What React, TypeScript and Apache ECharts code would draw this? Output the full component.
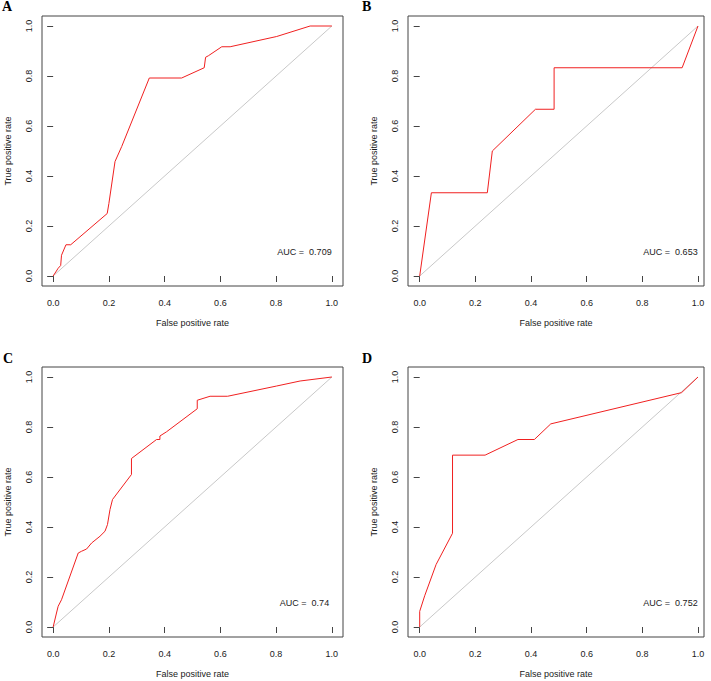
import React, { useEffect, useRef } from "react";
import * as echarts from "echarts";

// Panel labels and AUC values
const panelLetters = ["A", "B", "C", "D"];
const aucTexts = ["AUC =  0.709", "AUC =  0.653", "AUC =  0.74", "AUC =  0.752"];

// Axis ticks
const tickValues = [0, 0.2, 0.4, 0.6, 0.8, 1.0];
const xTitle = "False positive rate";
const yTitle = "True positive rate";

// ROC curve A
const fprA = [0, 0.018, 0.027, 0.030, 0.046, 0.063, 0.194, 0.200, 0.222, 0.246, 0.345, 0.461, 0.542, 0.547, 0.557, 0.605, 0.635, 0.802, 0.922, 1];
const tprA = [0, 0.031, 0.042, 0.083, 0.125, 0.125, 0.25, 0.29, 0.458, 0.518, 0.792, 0.792, 0.833, 0.875, 0.881, 0.917, 0.917, 0.958, 1, 1];

// ROC curve B
const fprB = [0, 0.042, 0.243, 0.261, 0.416, 0.483, 0.483, 0.943, 1];
const tprB = [0, 0.333, 0.333, 0.5, 0.667, 0.667, 0.833, 0.833, 1];

// ROC curve C
const fprC = [0, 0.012, 0.018, 0.030, 0.090, 0.102, 0.120, 0.138, 0.168, 0.186, 0.195, 0.204, 0.213, 0.281, 0.281, 0.371, 0.383, 0.383, 0.407, 0.517, 0.517, 0.563, 0.626, 0.802, 0.886, 1];
const tprC = [0, 0.056, 0.083, 0.109, 0.296, 0.303, 0.312, 0.336, 0.363, 0.383, 0.410, 0.470, 0.510, 0.610, 0.674, 0.750, 0.750, 0.764, 0.781, 0.873, 0.907, 0.923, 0.923, 0.964, 0.984, 1];

// ROC curve D
const fprD = [0, 0, 0.018, 0.059, 0.118, 0.118, 0.235, 0.353, 0.412, 0.471, 0.941, 1];
const tprD = [0, 0.0625, 0.125, 0.25, 0.375, 0.6875, 0.6875, 0.75, 0.75, 0.8125, 0.9375, 1];

// Chance diagonal
const diagX = [0, 1];
const diagY = [0, 1];

const FONT = '"Liberation Sans", Arial, sans-serif';
const TEXT = "#1a1a1a";
const BOX = "#444";

export default function App() {
  const ref = useRef<HTMLDivElement>(null);

  useEffect(() => {
    if (!ref.current) return;
    const chart = echarts.init(ref.current, null, { renderer: "svg" });

    const panels = [
      { fpr: fprA, tpr: tprA, grid: { left: 42, top: 16, width: 301, height: 270 }, xr: [-0.04, 1.04], letter: [2, 13], auc: [304.5, 252] },
      { fpr: fprB, tpr: tprB, grid: { left: 408, top: 16, width: 296, height: 270 }, xr: [-0.042, 1.0216], letter: [362, 13], auc: [670.5, 252] },
      { fpr: fprC, tpr: tprC, grid: { left: 42, top: 367, width: 301, height: 270 }, xr: [-0.04, 1.04], letter: [3, 365], auc: [304.5, 603] },
      { fpr: fprD, tpr: tprD, grid: { left: 408, top: 367, width: 296, height: 270 }, xr: [-0.042, 1.0216], letter: [362, 365], auc: [670.5, 603] },
    ];

    const grids: any[] = [];
    const xAxes: any[] = [];
    const yAxes: any[] = [];
    const series: any[] = [];
    const graphics: any[] = [];

    panels.forEach((p, i) => {
      grids.push({ ...p.grid, show: true, borderColor: BOX, borderWidth: 1, backgroundColor: "transparent", containLabel: false });
      xAxes.push({
        type: "value",
        gridIndex: i,
        min: p.xr[0],
        max: p.xr[1],
        axisLine: { show: false },
        splitLine: { show: false },
        axisTick: { show: true, inside: false, length: 6, customValues: tickValues, lineStyle: { color: BOX, width: 1 } },
        axisLabel: {
          customValues: tickValues,
          formatter: (v: number) => v.toFixed(1),
          fontSize: 9,
          fontFamily: FONT,
          color: TEXT,
          margin: 12,
        },
        name: xTitle,
        nameLocation: "middle",
        nameGap: 32,
        nameTextStyle: { fontSize: 9, fontFamily: FONT, color: TEXT },
      });
      yAxes.push({
        type: "value",
        gridIndex: i,
        min: -0.04,
        max: 1.04,
        axisLine: { show: false },
        splitLine: { show: false },
        axisTick: { show: true, inside: false, length: 6, customValues: tickValues, lineStyle: { color: BOX, width: 1 } },
        axisLabel: {
          customValues: tickValues,
          formatter: (v: number) => v.toFixed(1),
          fontSize: 9,
          fontFamily: FONT,
          color: TEXT,
          rotate: 90,
          margin: 9,
        },
        name: yTitle,
        nameLocation: "middle",
        nameGap: 30,
        nameTextStyle: { fontSize: 9, fontFamily: FONT, color: TEXT },
      });
      series.push({
        type: "line",
        xAxisIndex: i,
        yAxisIndex: i,
        data: diagX.map((x, k) => [x, diagY[k]]),
        showSymbol: false,
        symbol: "none",
        lineStyle: { color: "#c8c8c8", width: 1 },
        silent: true,
      });
      series.push({
        type: "line",
        xAxisIndex: i,
        yAxisIndex: i,
        data: p.fpr.map((x, k) => [x, p.tpr[k]]),
        showSymbol: false,
        symbol: "none",
        lineStyle: { color: "#f02020", width: 1 },
        silent: true,
      });
      graphics.push({
        type: "text",
        x: p.letter[0],
        y: p.letter[1],
        style: {
          text: panelLetters[i],
          font: 'bold 14px "Liberation Serif", "Times New Roman", serif',
          fill: "#000",
          textVerticalAlign: "bottom",
          verticalAlign: "bottom",
        },
      });
      graphics.push({
        type: "text",
        x: p.auc[0],
        y: p.auc[1],
        style: {
          text: aucTexts[i],
          font: '9px "Liberation Sans", Arial, sans-serif',
          fill: TEXT,
          align: "center",
          verticalAlign: "middle",
          textAlign: "center",
          textVerticalAlign: "middle",
        },
      });
    });

    chart.setOption({
      animation: false,
      backgroundColor: "#fff",
      grid: grids,
      xAxis: xAxes,
      yAxis: yAxes,
      series,
      graphic: graphics,
    });

    return () => chart.dispose();
  }, []);

  return (
    <div
      ref={ref}
      style={{ position: "fixed", left: 0, top: 0, width: 711, height: 681, background: "#fff" }}
    />
  );
}
